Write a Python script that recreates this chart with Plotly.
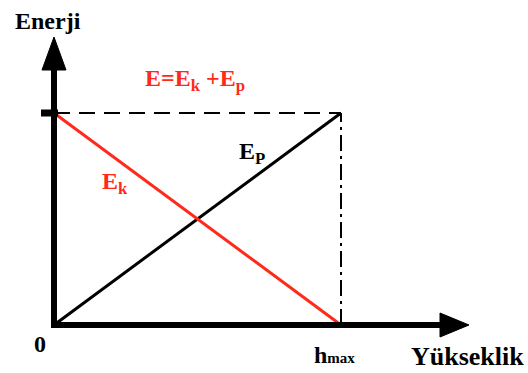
import plotly.graph_objects as go

# Data (height normalised to hmax = 1, energy normalised to E total = 1)
heights = [0, 1]
E_p = [0, 1]
E_k = [1, 0]
E_total = [1, 1]

# pixel mapping helpers (axis ranges chosen to fit 528x373)
W, H = 528, 373
ox, oy = 54, 325          # origin pixel
sx, sy = 287, 212         # pixels per unit
xr = [-ox / sx, (W - ox) / sx]
yr = [-(H - oy) / sy, oy / sy]

font = "Liberation Serif, Times New Roman, serif"
RED = "#ff2a1a"

fig = go.Figure()
# total energy dashed line
fig.add_trace(go.Scatter(x=heights, y=E_total, mode="lines",
                         line=dict(color="black", width=2, dash="16px,9px"), hoverinfo="skip"))
# dash-dot vertical at hmax
fig.add_trace(go.Scatter(x=[heights[1], heights[1]], y=[0, E_total[1]], mode="lines",
                         line=dict(color="black", width=2, dash="16px,5px,3px,5px"), hoverinfo="skip"))
# potential
fig.add_trace(go.Scatter(x=heights, y=E_p, mode="lines",
                         line=dict(color="black", width=3), hoverinfo="skip"))
# kinetic
fig.add_trace(go.Scatter(x=heights, y=E_k, mode="lines",
                         line=dict(color=RED, width=3), hoverinfo="skip"))

def px2x(p):
    return (p - ox) / sx

def px2y(p):
    return (oy - p) / sy

shapes = []
# y axis
shapes.append(dict(type="line", x0=0, x1=0, y0=px2y(oy + 3), y1=px2y(66), line=dict(color="black", width=6)))
shapes.append(dict(type="path", path=f"M {px2x(42)},{px2y(70)} L {px2x(54)},{px2y(37)} L {px2x(66)},{px2y(70)} Z",
                   fillcolor="black", line=dict(color="black", width=1)))
# x axis
shapes.append(dict(type="line", x0=px2x(ox - 3), x1=px2x(444), y0=0, y1=0, line=dict(color="black", width=6)))
shapes.append(dict(type="path", path=f"M {px2x(440)},{px2y(313)} L {px2x(469)},{px2y(325)} L {px2x(440)},{px2y(337)} Z",
                   fillcolor="black", line=dict(color="black", width=1)))
# tick at total energy
shapes.append(dict(type="line", x0=px2x(41), x1=px2x(58), y0=E_total[0], y1=E_total[0],
                   line=dict(color="black", width=7)))

annotations = [
    dict(x=px2x(48), y=px2y(21), text="Enerji", font=dict(size=24, color="black", family=font)),
    dict(x=px2x(195), y=px2y(80), text="E=E<sub>k</sub> +E<sub>p</sub>", font=dict(size=24, color=RED, family=font)),
    dict(x=px2x(252), y=px2y(153), text="E<sub>P</sub>", font=dict(size=24, color="black", family=font)),
    dict(x=px2x(115), y=px2y(183), text="E<sub>k</sub>", font=dict(size=24, color=RED, family=font)),
    dict(x=px2x(40), y=px2y(344), text="0", font=dict(size=24, color="black", family=font)),
    dict(x=px2x(334), y=px2y(355), text="h<span style='font-size:15px'>max</span>", font=dict(size=24, color="black", family=font)),
    dict(x=px2x(467), y=px2y(356), text="Yükseklik", font=dict(size=26, color="black", family=font)),
]
for a in annotations:
    a.update(xref="x", yref="y", showarrow=False)
    a["text"] = "<b>" + a["text"] + "</b>"

fig.update_layout(
    width=W, height=H, margin=dict(l=0, r=0, t=0, b=0),
    paper_bgcolor="white", plot_bgcolor="white", showlegend=False,
    xaxis=dict(range=xr, visible=False, fixedrange=True),
    yaxis=dict(range=yr, visible=False, fixedrange=True),
    shapes=shapes, annotations=annotations,
)

fig.write_html("out.html", config={"displayModeBar": False},
               post_script="document.body.style.margin='0';document.body.style.overflow='hidden';")
